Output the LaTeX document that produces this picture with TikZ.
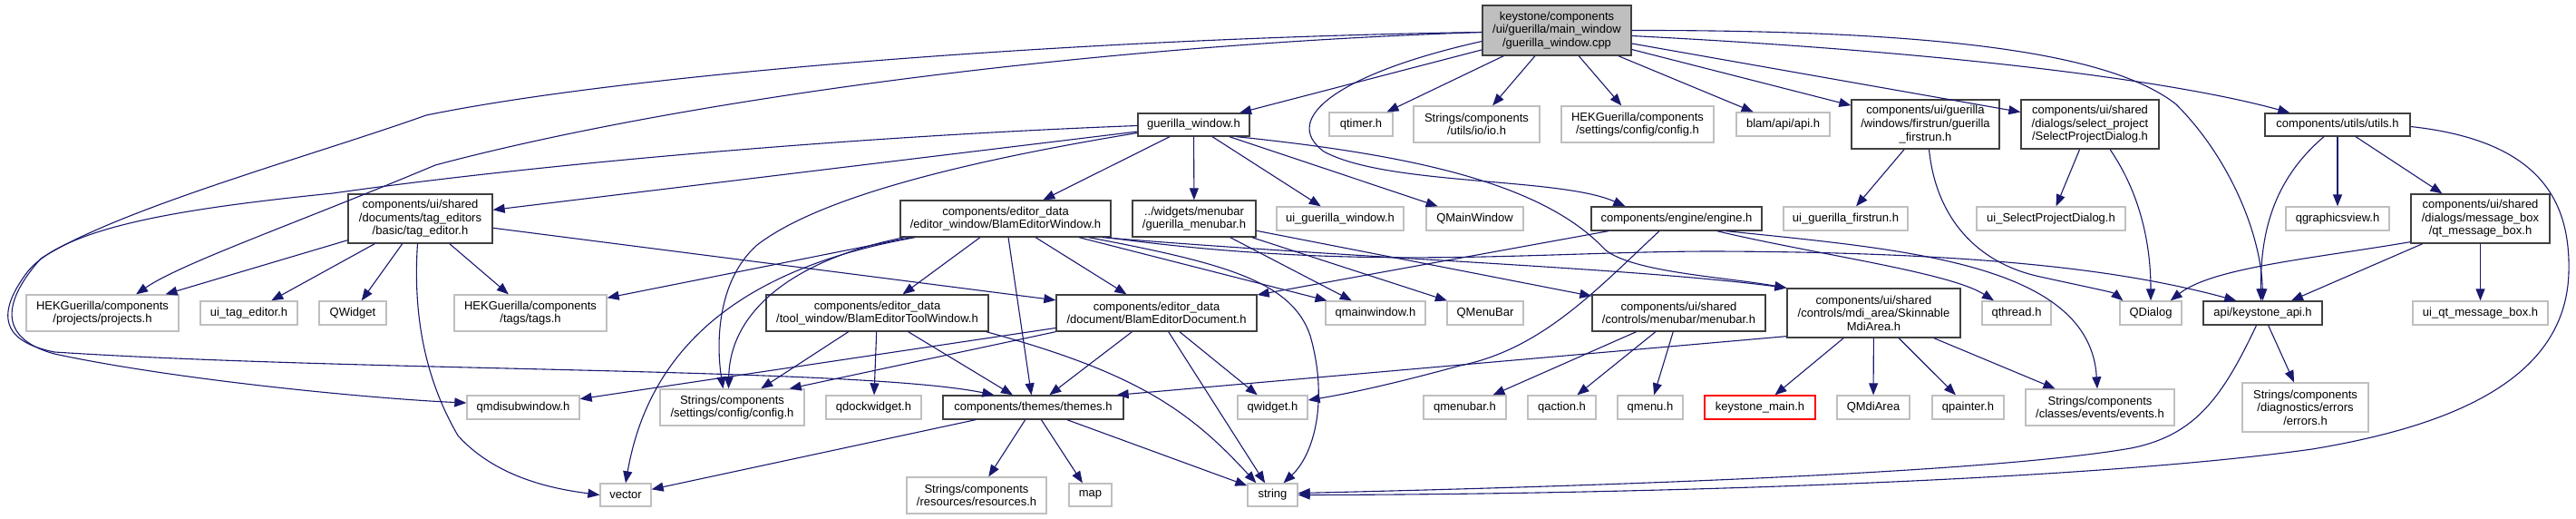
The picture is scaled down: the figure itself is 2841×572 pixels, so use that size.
\documentclass[tikz,border=0pt]{standalone}
\usepackage{fontspec}
\setmainfont{Liberation Sans}
\usetikzlibrary{arrows.meta,calc}
\definecolor{edgec}{HTML}{191970}
\definecolor{grayb}{HTML}{BFBFBF}
\definecolor{darkb}{HTML}{404040}
\newcommand\mknode[7]{\node[#1, minimum width=#5bp, minimum height=#6bp] (#2) at (#3,#4) {#7};}
\begin{document}
\begin{tikzpicture}[x=1bp,y=-1bp,
  box/.style={draw=darkb, line width=1.3bp, fill=white, align=center, inner sep=0pt,
    font=\fontsize{13bp}{14.6bp}\selectfont},
  gbox/.style={box, draw=grayb},
  rbox/.style={box, draw=red},
  mbox/.style={box, fill=grayb},
  dep/.style={draw=edgec, line width=1.1bp, -{Triangle[length=13bp,width=10bp]}},
]
\fill[white] (0,0) rectangle (2841,572);
\useasboundingbox (0,0) rectangle (2841,572);
% row 1
\mknode{mbox}{main}{1717}{33.5}{164}{55}{keystone/components\\/ui/guerilla/main\_window\\/guerilla\_window.cpp}
% row 2
\mknode{box}{gw}{1316.5}{137.5}{123}{25}{guerilla\_window.h}
\mknode{gbox}{qtimer}{1501}{137}{70}{26}{qtimer.h}
\mknode{gbox}{io}{1628.5}{137}{139}{40}{Strings/components\\/utils/io/io.h}
\mknode{gbox}{hekconfig}{1806}{137}{168}{40}{HEKGuerilla/components\\/settings/config/config.h}
\mknode{gbox}{api}{1966.5}{137}{103}{26}{blam/api/api.h}
\mknode{box}{firstrun}{2123.5}{137}{163}{54}{components/ui/guerilla\\/windows/firstrun/guerilla\\\_firstrun.h}
\mknode{box}{selproj}{2305}{137}{152}{54}{components/ui/shared\\/dialogs/select\_project\\/SelectProjectDialog.h}
\mknode{box}{utils}{2578}{137.5}{160}{25}{components/utils/utils.h}
% row 3
\mknode{box}{tagedit}{463.5}{241}{159}{54}{components/ui/shared\\/documents/tag\_editors\\/basic/tag\_editor.h}
\mknode{box}{blamwin}{1109}{241}{232}{40}{components/editor\_data\\/editor\_window/BlamEditorWindow.h}
\mknode{box}{gmenubar}{1317}{241}{136}{40}{../widgets/menubar\\/guerilla\_menubar.h}
\mknode{gbox}{uigw}{1478}{241}{140}{26}{ui\_guerilla\_window.h}
\mknode{gbox}{qmainwin}{1626.5}{241}{107}{26}{QMainWindow}
\mknode{box}{engine}{1849}{241}{188}{26}{components/engine/engine.h}
\mknode{gbox}{uifirst}{2035.5}{241}{137}{26}{ui\_guerilla\_firstrun.h}
\mknode{gbox}{uisel}{2262}{241}{164}{26}{ui\_SelectProjectDialog.h}
\mknode{gbox}{qgv}{2578}{241}{114}{26}{qgraphicsview.h}
\mknode{box}{msgbox}{2735.5}{241}{153}{54}{components/ui/shared\\/dialogs/message\_box\\/qt\_message\_box.h}
% row 4
\mknode{gbox}{projects}{113}{345}{168}{40}{HEKGuerilla/components\\/projects/projects.h}
\mknode{gbox}{uitag}{274.5}{345}{107}{26}{ui\_tag\_editor.h}
\mknode{gbox}{qwidgetQ}{389}{345}{74}{26}{QWidget}
\mknode{gbox}{tags}{585}{345}{168}{40}{HEKGuerilla/components\\/tags/tags.h}
\mknode{box}{toolwin}{967.5}{345}{245}{40}{components/editor\_data\\/tool\_window/BlamEditorToolWindow.h}
\mknode{box}{doc}{1275.5}{345}{221}{40}{components/editor\_data\\/document/BlamEditorDocument.h}
\mknode{gbox}{qmainwinh}{1517}{345}{110}{26}{qmainwindow.h}
\mknode{gbox}{qmenubarQ}{1638}{345}{84}{26}{QMenuBar}
\mknode{box}{menubarh}{1851.5}{345}{191}{40}{components/ui/shared\\/controls/menubar/menubar.h}
\mknode{box}{mdi}{2066.5}{345}{191}{54}{components/ui/shared\\/controls/mdi\_area/Skinnable\\MdiArea.h}
\mknode{gbox}{qthread}{2224}{345}{76}{26}{qthread.h}
\mknode{gbox}{qdialog}{2372}{345}{68}{26}{QDialog}
\mknode{box}{kapi}{2495.5}{345}{131}{26}{api/keystone\_api.h}
\mknode{gbox}{uimsg}{2735.5}{345}{149}{26}{ui\_qt\_message\_box.h}
% row 5
\mknode{gbox}{qmdisub}{577}{449}{124}{26}{qmdisubwindow.h}
\mknode{gbox}{strconfig}{807.5}{449}{159}{40}{Strings/components\\/settings/config/config.h}
\mknode{gbox}{qdock}{963.5}{449}{105}{26}{qdockwidget.h}
\mknode{box}{themes}{1139.5}{449}{199}{26}{components/themes/themes.h}
\mknode{gbox}{qwidgeth}{1403.5}{449}{77}{26}{qwidget.h}
\mknode{gbox}{qmenubarh}{1615.5}{449}{91}{26}{qmenubar.h}
\mknode{gbox}{qaction}{1722.5}{449}{75}{26}{qaction.h}
\mknode{gbox}{qmenu}{1820}{449}{72}{26}{qmenu.h}
\mknode{rbox}{kmain}{1941}{449}{122}{26}{keystone\_main.h}
\mknode{gbox}{qmdiarea}{2066}{449}{80}{26}{QMdiArea}
\mknode{gbox}{qpainter}{2170.5}{449}{79}{26}{qpainter.h}
\mknode{gbox}{events}{2316}{449}{164}{40}{Strings/components\\/classes/events/events.h}
\mknode{gbox}{errors}{2542.5}{449}{139}{54}{Strings/components\\/diagnostics/errors\\/errors.h}
% row 6
\mknode{gbox}{vector}{690}{545.5}{56}{25}{vector}
\mknode{gbox}{resources}{1077}{546}{154}{40}{Strings/components\\/resources/resources.h}
\mknode{gbox}{map}{1202.5}{545.5}{47}{25}{map}
\mknode{gbox}{string}{1403.5}{545.5}{55}{25}{string}

% ---- edges from main
\draw[dep] (main) -- (gw);
\draw[dep] (main) -- (qtimer);
\draw[dep] (main) -- (io);
\draw[dep] (main) -- (hekconfig);
\draw[dep] (main) -- (api);
\draw[dep] (main) -- (firstrun);
\draw[dep] (main) -- (selproj);
\draw[dep] ($(main.east)+(0,6)$) .. controls (2200,60) and (2420,95) .. ($(utils.north west)+(28,0)$);
\draw[dep] (main.east) .. controls (2150,33) and (2330,60) .. (2400,115) .. controls (2460,175) and (2494,260) .. (kapi.north);
\draw[dep] ($(main.west)+(0,12)$) .. controls (1480,80) and (1410,130) .. (1460,167) .. controls (1530,205) and (1720,195) .. ($(engine.north west)+(38,0)$);
\draw[dep] ($(main.west)+(0,2)$) .. controls (1200,50) and (750,110) .. (480,182) .. controls (330,245) and (200,290) .. ($(projects.north)+(37,0)$);
\draw[dep] ($(main.west)+(0,2)$) .. controls (1200,42) and (700,80) .. (470,127) .. controls (350,170) and (130,230) .. (45,285) .. controls (5,330) and (-5,372) .. (60,390) .. controls (200,420) and (420,440) .. ($(qmdisub.west)+(0,-5)$);

% ---- guerilla_window.h
\draw[dep] (gw) -- (blamwin);
\draw[dep] (gw) -- (gmenubar);
\draw[dep] (gw) -- (uigw);
\draw[dep] (gw) -- (qmainwin);
\draw[dep] (gw) -- (tagedit);
\draw[dep] ($(gw.south east)+(-15,0)$) .. controls (1550,170) and (1700,200) .. (1770,275) .. controls (1800,300) and (1900,305) .. (mdi.north west);
\draw[dep] ($(gw.west)+(0,9)$) .. controls (1050,180) and (900,220) .. (835,270) .. controls (790,310) and (790,380) .. ($(strconfig.north)+(-10,0)$);
\draw[dep] ($(gw.west)+(0,1)$) .. controls (950,150) and (600,180) .. (367,213) .. controls (200,230) and (70,250) .. (30,300) .. controls (0,340) and (-5,375) .. (60,388) .. controls (400,410) and (950,405) .. ($(themes.north west)+(57,0)$);

% ---- BlamEditorWindow.h
\draw[dep] (blamwin) -- (tags);
\draw[dep] (blamwin) -- (toolwin);
\draw[dep] (blamwin) -- (themes);
\draw[dep] (blamwin) -- (doc);
\draw[dep] (blamwin) -- (qmainwinh);
\draw[dep] ($(blamwin.south west)+(17,0)$) .. controls (850,290) and (720,360) .. (vector.north);
\draw[dep] ($(blamwin.south west)+(5,0)$) .. controls (880,285) and (805,340) .. ($(strconfig.north)+(-4,0)$);
\draw[dep] ($(blamwin.south east)+(-25,0)$) .. controls (1350,290) and (1425,310) .. (1445,370) .. controls (1465,440) and (1450,500) .. ($(string.north)+(12,0)$);
\draw[dep] ($(blamwin.south east)+(-10,0)$) .. controls (1500,285) and (1800,295) .. (mdi.north west);
\draw[dep] ($(blamwin.south east)+(-5,0)$) .. controls (1500,300) and (1700,277) .. (1890,277) .. controls (2200,278) and (2350,300) .. ($(kapi.north west)+(37,0)$);

% ---- guerilla_menubar.h
\draw[dep] (gmenubar) -- (qmainwinh);
\draw[dep] (gmenubar) -- (qmenubarQ);
\draw[dep] (gmenubar) -- (menubarh);

% ---- engine.h
\draw[dep] (engine) -- (doc);
\draw[dep] ($(engine.south)+(-19,0)$) .. controls (1760,320) and (1700,385) .. (1610,403) .. controls (1530,425) and (1480,435) .. ($(qwidgeth.east)+(0,-8)$);
\draw[dep] ($(engine.south east)+(-50,0)$) .. controls (2000,280) and (2150,300) .. ($(qthread.north)+(-25,0)$);
\draw[dep] ($(engine.south east)+(-40,0)$) .. controls (2100,275) and (2305,290) .. ($(events.north)+(-3,0)$);

% ---- firstrun / select project
\draw[dep] (firstrun) -- (uifirst);
\draw[dep] ($(firstrun.south)+(4,0)$) .. controls (2135,240) and (2180,290) .. (2250,305) .. controls (2300,316) and (2330,322) .. ($(qdialog.north west)+(4,0)$);
\draw[dep] (selproj) -- (uisel);
\draw[dep] ($(selproj.south)+(22,0)$) .. controls (2365,220) and (2372,280) .. (qdialog.north);

% ---- utils.h
\draw[dep] (utils) -- (qgv);
\draw[dep] (utils) -- (msgbox);
\draw[dep] ($(utils.south)+(-15,0)$) .. controls (2505,200) and (2493,260) .. ($(kapi.north)+(-2,0)$);
\draw[dep] ($(utils.east)+(0,2)$) .. controls (2800,155) and (2835,220) .. (2833,300) .. controls (2830,420) and (2700,470) .. (2550,495) .. controls (2300,530) and (1800,545) .. (string.east);

% ---- qt_message_box.h
\draw[dep] ($(msgbox.south west)+(0,-2)$) .. controls (2550,285) and (2440,295) .. ($(qdialog.north east)+(-13,0)$);
\draw[dep] (msgbox) -- (kapi);
\draw[dep] (msgbox) -- (uimsg);

% ---- keystone_api.h
\draw[dep] (kapi) -- (errors);
\draw[dep] ($(kapi.south)+(-7,0)$) .. controls (2450,440) and (2420,480) .. (2350,494) .. controls (2200,520) and (1800,535) .. ($(string.east)+(0,-2)$);

% ---- SkinnableMdiArea.h
\draw[dep] (mdi) -- (kmain);
\draw[dep] (mdi) -- (qmdiarea);
\draw[dep] (mdi) -- (qpainter);
\draw[dep] (mdi) -- (events);
\draw[dep] ($(mdi.south west)+(0,-2)$) -- ($(themes.north east)+(-8,0)$);

% ---- menubar.h
\draw[dep] (menubarh) -- (qmenubarh);
\draw[dep] (menubarh) -- (qaction);
\draw[dep] (menubarh) -- (qmenu);

% ---- tag_editor.h
\draw[dep] (tagedit) -- (projects);
\draw[dep] (tagedit) -- (uitag);
\draw[dep] (tagedit) -- (qwidgetQ);
\draw[dep] (tagedit) -- (tags);
\draw[dep] (tagedit) -- (doc);
\draw[dep] ($(tagedit.south)+(-3,0)$) .. controls (455,350) and (470,420) .. (505,480) .. controls (550,530) and (620,540) .. (vector.west);

% ---- BlamEditorToolWindow.h
\draw[dep] (toolwin) -- (strconfig);
\draw[dep] (toolwin) -- (qdock);
\draw[dep] (toolwin) -- (themes);
\draw[dep] ($(toolwin.south east)+(-3,0)$) .. controls (1250,410) and (1310,450) .. ($(string.north west)+(10,0)$);

% ---- BlamEditorDocument.h
\draw[dep] (doc) -- (themes);
\draw[dep] (doc) -- (string);
\draw[dep] (doc) -- (qwidgeth);
\draw[dep] (doc) -- (qmdisub);
\draw[dep] (doc.south west) -- ($(strconfig.north east)+(-17,0)$);

% ---- themes.h
\draw[dep] (themes) -- (resources);
\draw[dep] (themes) -- (map);
\draw[dep] (themes) -- (string);
\draw[dep] (themes) -- (vector);
\end{tikzpicture}
\end{document}
